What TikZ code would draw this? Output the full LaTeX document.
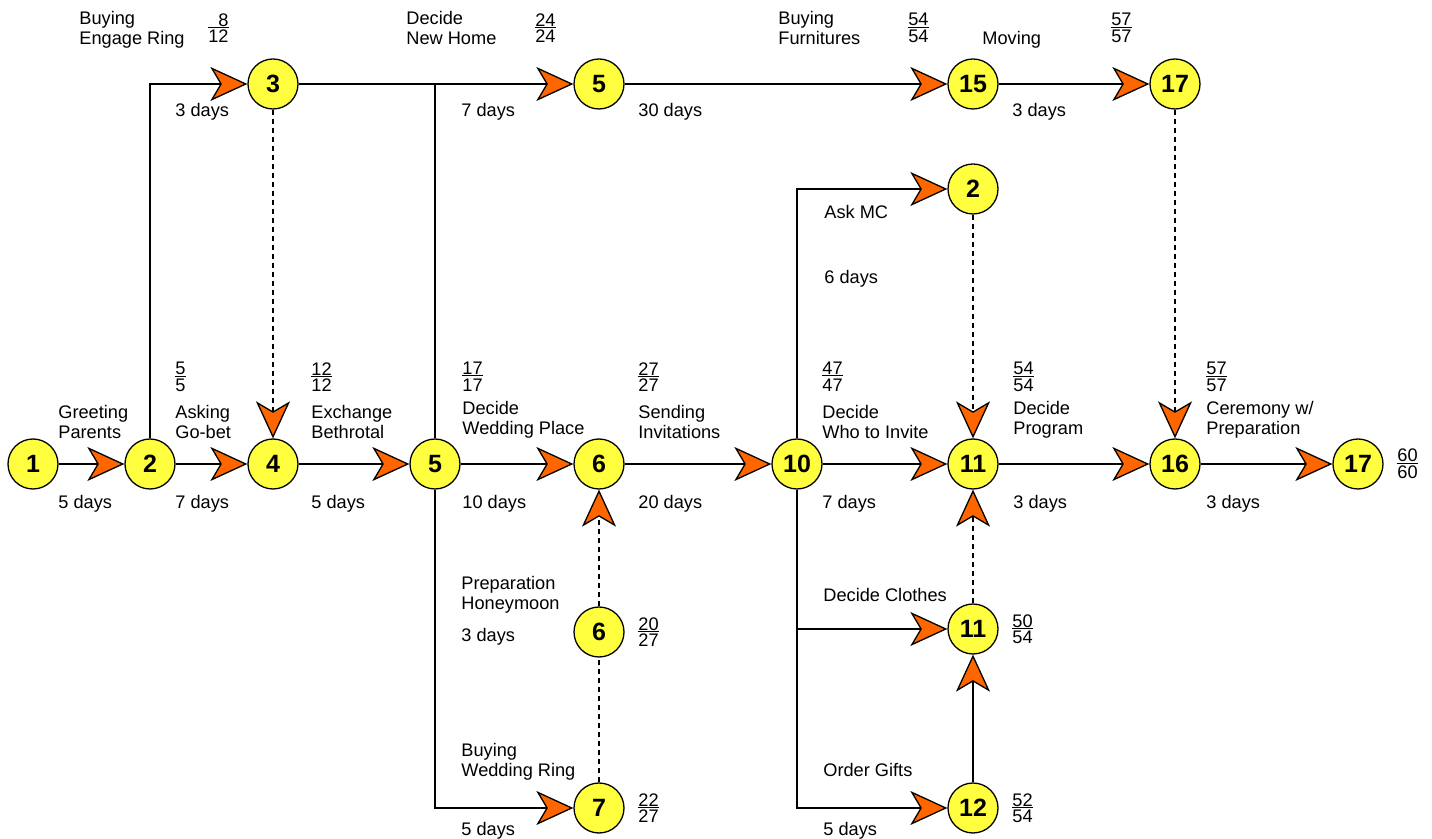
\documentclass[tikz,border=0pt]{standalone}
\usepackage{fontspec}
\setmainfont{Liberation Sans}
\usetikzlibrary{arrows.meta}
\definecolor{nodeyellow}{RGB}{255,255,64}
\definecolor{arrowor}{RGB}{255,102,0}
\newcommand\frc[2]{%
 \setbox0=\hbox{#1}\setbox2=\hbox{#2}%
 \dimen0=\wd0 \ifdim\wd2>\dimen0 \dimen0=\wd2\fi
 \vbox{\offinterlineskip\hbox to\dimen0{\hfil\box0}\kern0.25pt\hrule width\dimen0 height0.5pt\kern1.1pt\hbox to\dimen0{\hfil\box2}}}
\begin{document}
\begin{tikzpicture}[x=0.5pt,y=-0.5pt,
  circ/.style={circle, draw, fill=nodeyellow, minimum size=25pt, inner sep=0pt,
    line width=0.65pt, font=\fontsize{12.5}{14}\selectfont\bfseries},
  lbl/.style={anchor=north west, inner sep=0pt, align=left, yshift=0.8pt,
    font=\fontsize{9.1}{10}\selectfont},
  fracl/.style={inner sep=0pt, font=\fontsize{9.1}{10}\selectfont},
  conn/.style={line width=0.65pt},
  arr/.style={-{Stealth[length=18.5pt,width=17pt,inset=5pt,fill=arrowor]}},
  dashln/.style={dash pattern=on 2.5pt off 2pt}
]
\useasboundingbox (0,0) rectangle (1432,839);

% nodes
\node[circ] (n1)  at (33,464)   {1};
\node[circ] (n2)  at (150,464)  {2};
\node[circ] (n4)  at (273,464)  {4};
\node[circ] (m5)  at (435,464)  {5};
\node[circ] (m6)  at (599,464)  {6};
\node[circ] (n10) at (797,464)  {10};
\node[circ] (m11) at (973,464)  {11};
\node[circ] (n16) at (1175,464) {16};
\node[circ] (e17) at (1358,464) {17};
\node[circ] (n3)  at (273,84)   {3};
\node[circ] (t5)  at (599,84)   {5};
\node[circ] (n15) at (973,84)   {15};
\node[circ] (t17) at (1175,84)  {17};
\node[circ] (a2)  at (973,189)  {2};
\node[circ] (l6)  at (599,632)  {6};
\node[circ] (n7)  at (599,808)  {7};
\node[circ] (l11) at (973,629)  {11};
\node[circ] (n12) at (973,808)  {12};
\coordinate (j3) at (435,84);

% connectors
\draw[conn,arr] (n1) -- (n2);
\draw[conn,arr] (n2) -- (n4);
\draw[conn,arr] (n4) -- (m5);
\draw[conn,arr] (m5) -- (m6);
\draw[conn,arr] (m6) -- (n10);
\draw[conn,arr] (n10) -- (m11);
\draw[conn,arr] (m11) -- (n16);
\draw[conn,arr] (n16) -- (e17);
\draw[conn,arr] (n2) |- (n3);
\draw[conn] (n3) -- (j3);
\draw[conn,arr] (m5) |- (t5);
\draw[conn,arr] (t5) -- (n15);
\draw[conn,arr] (n15) -- (t17);
\draw[conn,arr] (m5) |- (n7);
\draw[conn,arr] (n10) |- (a2);
\draw[conn,arr] (n10) |- (l11);
\draw[conn,arr] (n10) |- (n12);
\draw[conn,arr] (n12) -- (l11);
\draw[conn,dashln,arr] (n3) -- (n4);
\draw[conn,dashln,arr] (a2) -- (m11);
\draw[conn,dashln,arr] (t17) -- (n16);
\draw[conn,dashln,arr] (l11) -- (m11);
\draw[conn,dashln,arr] (l6) -- (m6);
\draw[conn,dashln] (n7) -- (l6);

% top labels
\node[lbl] (tA) at (79,13) {Buying\\Engage Ring};
\node[fracl,anchor=north east] (fA) at (229,13) {\frc{8}{12}};
\node[lbl] (dA) at (175,105) {3 days};
\node[lbl] (tB) at (406,13) {Decide\\New Home};
\node[fracl,anchor=north east] (fB) at (556,13) {\frc{24}{24}};
\node[lbl] (dB) at (461,105) {7 days};
\node[lbl] (dC) at (638,105) {30 days};
\node[lbl] (tC) at (778,13) {Buying\\Furnitures};
\node[fracl,anchor=north east] (fC) at (929,13) {\frc{54}{54}};
\node[lbl] (tD) at (982,33) {Moving};
\node[fracl,anchor=north east] (fD) at (1132,13) {\frc{57}{57}};
\node[lbl] (dD) at (1012,105) {3 days};

% main row labels
\node[lbl] (r1) at (58,407) {Greeting\\Parents};
\node[lbl] (d1) at (58,497) {5 days};
\node[fracl,anchor=north west] (f2) at (175,362) {\frc{5}{5}};
\node[lbl] (r2) at (175,407) {Asking\\Go-bet};
\node[lbl] (d2) at (175,497) {7 days};
\node[fracl,anchor=north west] (f4) at (311,362) {\frc{12}{12}};
\node[lbl] (r4) at (311,407) {Exchange\\Bethrotal};
\node[lbl] (d4) at (311,497) {5 days};
\node[fracl,anchor=north west] (f5) at (462,362) {\frc{17}{17}};
\node[lbl] (r5) at (462,403) {Decide\\Wedding Place};
\node[lbl] (d5) at (462,497) {10 days};
\node[fracl,anchor=north west] (f6) at (638,362) {\frc{27}{27}};
\node[lbl] (r6) at (638,407) {Sending\\Invitations};
\node[lbl] (d6) at (638,497) {20 days};
\node[fracl,anchor=north west] (f10) at (822,362) {\frc{47}{47}};
\node[lbl] (r10) at (822,407) {Decide\\Who to Invite};
\node[lbl] (d10) at (822,497) {7 days};
\node[fracl,anchor=north west] (f11) at (1013,362) {\frc{54}{54}};
\node[lbl] (r11) at (1013,403) {Decide\\Program};
\node[lbl] (d11) at (1013,497) {3 days};
\node[fracl,anchor=north west] (f16) at (1206,362) {\frc{57}{57}};
\node[lbl] (r16) at (1206,403) {Ceremony w/\\Preparation};
\node[lbl] (d16) at (1206,497) {3 days};
\node[fracl,anchor=west] (f17) at (1397,464) {\frc{60}{60}};

% other labels
\node[lbl] (rMC) at (824,207) {Ask MC};
\node[lbl] (dMC) at (824,272) {6 days};
\node[lbl] (rHM) at (461,578) {Preparation\\Honeymoon};
\node[lbl] (dHM) at (461,630) {3 days};
\node[fracl,anchor=west] (fHM) at (638,632) {\frc{20}{27}};
\node[lbl] (rWR) at (461,745) {Buying\\Wedding Ring};
\node[lbl] (dWR) at (461,824) {5 days};
\node[fracl,anchor=west] (fWR) at (638,808) {\frc{22}{27}};
\node[lbl] (rCL) at (823,590) {Decide Clothes};
\node[fracl,anchor=west] (fCL) at (1012,629) {\frc{50}{54}};
\node[lbl] (rOG) at (823,765) {Order Gifts};
\node[lbl] (dOG) at (823,824) {5 days};
\node[fracl,anchor=west] (fOG) at (1012,808) {\frc{52}{54}};
\end{tikzpicture}
\end{document}
